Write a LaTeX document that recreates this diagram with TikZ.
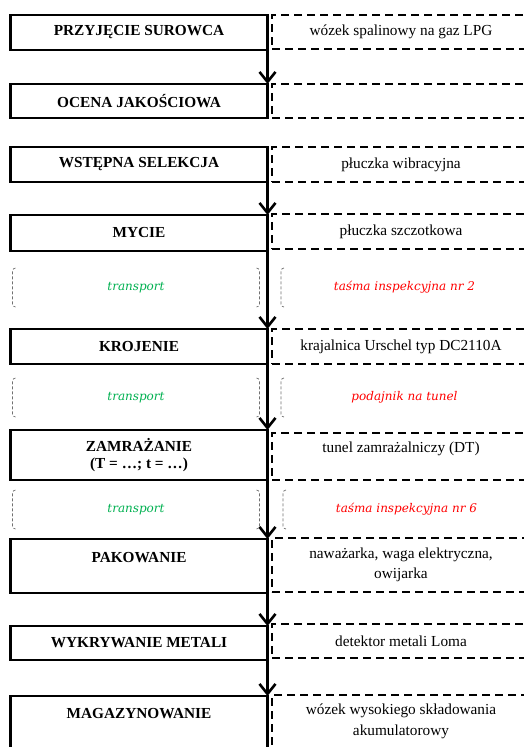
\documentclass[tikz,border=0pt]{standalone}
\usepackage{fontspec}
\setmainfont{Liberation Serif}
\newfontfamily\movefont{DejaVu Serif}
\usetikzlibrary{arrows.meta}
\definecolor{TransportGreen}{HTML}{00B050}
\definecolor{EquipmentRed}{HTML}{FF0000}
\definecolor{BracketGrey}{HTML}{707070}

\begin{document}
\begin{tikzpicture}[x=1pt,y=-1pt,
    stage/.style={draw,line width=2.5pt,anchor=north west,minimum width=257pt,
      inner sep=0pt,outer sep=0pt,align=center,font=\fontsize{15.3}{20.5}\selectfont\bfseries},
    device/.style={draw,line width=1.6pt,dash pattern=on 8pt off 5pt,anchor=north west,
      minimum width=258pt,inner sep=0pt,outer sep=0pt,align=center,font=\fontsize{15.3}{20.5}\selectfont},
    move/.style={anchor=north west,minimum width=247pt,minimum height=39pt,inner sep=0pt,
      outer sep=0pt,font=\movefont\itshape\fontsize{12}{14}\selectfont},
    bracket/.style={BracketGrey,line width=0.7pt,dash pattern=on 3pt off 2pt,rounded corners=3pt},
    flow/.style={-{Straight Barb[length=10pt,width=16pt,line width=2.6pt]},line width=2.8pt}]
  \useasboundingbox (0,0) rectangle (524,747);
  \clip (0,0) rectangle (524,747);

  % process steps
  \node[stage,minimum height=35pt] (przyjecie) at (10.5,15) {PRZYJĘCIE SUROWCA};
  \node[stage,minimum height=34pt] (ocena) at (10.5,84) {OCENA JAKOŚCIOWA};
  \node[stage,minimum height=35pt] (selekcja) at (10.5,147) {WSTĘPNA SELEKCJA};
  \node[stage,minimum height=36pt] (mycie) at (10.5,215) {MYCIE};
  \node[stage,minimum height=35pt] (krojenie) at (10.5,329) {KROJENIE};
  \node[stage,minimum height=50pt] (zamrazanie) at (10.5,430) {ZAMRAŻANIE\\[-3.5pt](T = …; t = …)};
  \node[stage,minimum height=54pt,text depth=17pt] (pakowanie) at (10.5,539) {PAKOWANIE};
  \node[stage,minimum height=34pt] (wykrywanie) at (10.5,626) {WYKRYWANIE METALI};
  \node[stage,minimum height=58pt,text depth=24pt] (magazyn) at (10.5,696) {MAGAZYNOWANIE};

  % machines
  \node[device,minimum height=34pt] (wozek) at (272,15) {wózek spalinowy na gaz LPG};
  \node[device,minimum height=34pt] (brak) at (272,84) {};
  \node[device,minimum height=35pt] (wibracyjna) at (272,147) {płuczka wibracyjna};
  \node[device,minimum height=35pt] (szczotkowa) at (272,214) {płuczka szczotkowa};
  \node[device,minimum height=35pt] (krajalnica) at (272,329) {krajalnica Urschel typ DC2110A};
  \node[device,minimum height=47pt,text depth=18pt] (tunel) at (272,433) {tunel zamrażalniczy (DT)};
  \node[device,minimum height=54pt] (nawazarka) at (272,538) {naważarka, waga elektryczna,\\owijarka};
  \node[device,minimum height=34pt] (detektor) at (272,624) {detektor metali Loma};
  \node[device,minimum height=53pt] (wozekaku) at (272,695) {wózek wysokiego składowania\\akumulatorowy};

  % transport rows
  \node[move,text=TransportGreen] (trans1) at (12.5,268) {transport};
  \node[move,text=EquipmentRed] (tasma2) at (281,268) {taśma inspekcyjna nr 2};
  \node[move,text=TransportGreen] (trans2) at (12.5,378) {transport};
  \node[move,text=EquipmentRed] (podajnik) at (281,378) {podajnik na tunel};
  \node[move,text=TransportGreen] (trans3) at (12.5,490) {transport};
  \node[move,text=EquipmentRed] (tasma6) at (283,490) {taśma inspekcyjna nr 6};
  \foreach \n in {trans1,tasma2,trans2,podajnik,trans3,tasma6}{
    \draw[bracket] ([xshift=3pt]\n.north west) -- (\n.north west) -- (\n.south west) -- ([xshift=3pt]\n.south west);
    \draw[bracket] ([xshift=-3pt]\n.north east) -- (\n.north east) -- (\n.south east) -- ([xshift=-3pt]\n.south east);
  }

  \foreach \a/\b in {przyjecie/ocena,selekcja/mycie,mycie/krojenie,krojenie/zamrazanie,
      zamrazanie/pakowanie,pakowanie/wykrywanie,wykrywanie/magazyn}
    \draw[flow] (\a.south east) -- (\b.north east);
\end{tikzpicture}
\end{document}
